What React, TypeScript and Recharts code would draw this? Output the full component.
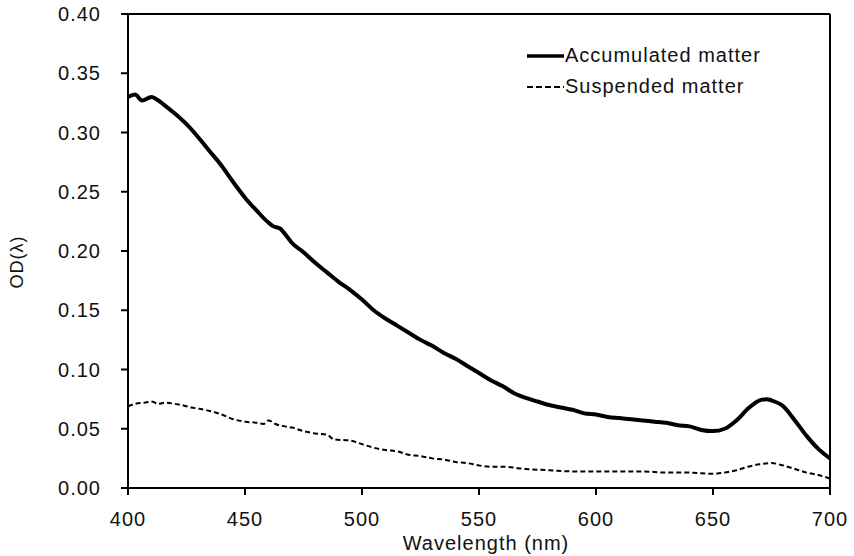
import { LineChart, Line, XAxis, YAxis, ReferenceLine } from "recharts";

// Wellenlänge (nm) und OD-Werte
const ACC_NM = [
  400, 403, 406, 410, 413, 415, 420, 425, 430, 435, 440, 445, 450, 455, 460,
  462, 465, 468, 470, 475, 480, 485, 490, 495, 500, 505, 510, 515, 520, 525,
  530, 535, 540, 545, 550, 555, 560, 565, 570, 575, 580, 585, 590, 595, 600,
  605, 610, 615, 620, 625, 630, 635, 640, 645, 650, 655, 660, 665, 670, 673,
  675, 680, 685, 690, 695, 700,
];
const ACC_OD = [
  0.330, 0.332, 0.327, 0.330, 0.327, 0.324, 0.316, 0.307, 0.296, 0.284, 0.272,
  0.258, 0.245, 0.234, 0.224, 0.221, 0.219, 0.212, 0.207, 0.199, 0.19, 0.182,
  0.174, 0.167, 0.159, 0.15, 0.143, 0.137, 0.131, 0.125, 0.12, 0.114, 0.109,
  0.103, 0.097, 0.091, 0.086, 0.08, 0.076, 0.073, 0.07, 0.068, 0.066, 0.063,
  0.062, 0.06, 0.059, 0.058, 0.057, 0.056, 0.055, 0.053, 0.052, 0.049, 0.048,
  0.05, 0.057, 0.067, 0.074, 0.075, 0.074, 0.069, 0.057, 0.044, 0.033, 0.025,
];

const SUS_NM = [
  400, 403, 407, 410, 413, 416, 420, 423, 427, 430, 435, 440, 445, 450, 455,
  458, 460, 463, 467, 470, 475, 480, 485, 488, 495, 500, 505, 510, 515, 520,
  525, 530, 535, 540, 545, 550, 555, 560, 570, 580, 590, 600, 610, 620, 630,
  640, 650, 655, 660, 665, 670, 675, 680, 685, 690, 695, 700,
];
const SUS_OD = [
  0.069, 0.071, 0.072, 0.073, 0.071, 0.072, 0.071, 0.07, 0.068, 0.067, 0.065,
  0.062, 0.058, 0.056, 0.055, 0.054, 0.057, 0.054, 0.052, 0.051, 0.048, 0.046,
  0.045, 0.041, 0.04, 0.037, 0.034, 0.032, 0.031, 0.028, 0.027, 0.025, 0.024,
  0.022, 0.021, 0.019, 0.018, 0.018, 0.016, 0.015, 0.014, 0.014, 0.014, 0.014,
  0.013, 0.013, 0.012, 0.013, 0.015, 0.018, 0.02, 0.021, 0.019, 0.016, 0.013,
  0.011, 0.008,
];

const X_TICKS = [400, 450, 500, 550, 600, 650, 700];
const Y_TICKS = [0, 0.05, 0.1, 0.15, 0.2, 0.25, 0.3, 0.35, 0.4];

const SERIES = [
  { key: "acc", name: "Accumulated matter", width: 4, dash: undefined },
  { key: "sus", name: "Suspended matter", width: 2, dash: "5 3" },
];

const FONT = "'Liberation Sans', Arial, sans-serif";
const accData = ACC_NM.map((nm, i) => ({ nm, od: ACC_OD[i] }));
const susData = SUS_NM.map((nm, i) => ({ nm, od: SUS_OD[i] }));

const tickStyle = { fill: "#111", fontSize: 20, fontFamily: FONT, letterSpacing: 1 };

function LegendBox() {
  return (
    <div
      style={{
        position: "absolute",
        top: 40,
        left: 527,
        fontFamily: FONT,
        fontSize: 20,
        letterSpacing: 1,
        color: "#111",
      }}
    >
      {SERIES.map((s) => (
        <div key={s.key} style={{ display: "flex", alignItems: "center", height: 31 }}>
          <svg width={37} height={6} style={{ marginRight: 1 }}>
            <line
              x1={0}
              y1={3}
              x2={37}
              y2={3}
              stroke="#000"
              strokeWidth={s.key === "acc" ? 3.5 : 2}
              strokeDasharray={s.key === "acc" ? undefined : "6 3"}
            />
          </svg>
          <span>{s.name}</span>
        </div>
      ))}
    </div>
  );
}

export default function App() {
  return (
    <div style={{ position: "absolute", left: 0, top: 0, width: 854, height: 556, background: "#fff" }}>
      <LineChart width={854} height={556} margin={{ top: 14, right: 24, left: 0, bottom: 0 }}>
        <XAxis
          dataKey="nm"
          type="number"
          domain={[400, 700]}
          ticks={X_TICKS}
          allowDuplicatedCategory={false}
          height={68}
          stroke="#000"
          axisLine={{ stroke: "#000", strokeWidth: 2 }}
          tickLine={{ stroke: "#000", strokeWidth: 2 }}
          tickSize={7}
          tickMargin={17}
          tick={tickStyle}
          label={{
            value: "Wavelength (nm)",
            position: "insideBottom",
            offset: 6,
            dx: 7,
            style: { fill: "#111", fontSize: 20, fontFamily: FONT, letterSpacing: 1 },
          }}
        />
        <YAxis
          type="number"
          domain={[0, 0.4]}
          ticks={Y_TICKS}
          width={128}
          axisLine={{ stroke: "#000", strokeWidth: 2 }}
          tickLine={{ stroke: "#000", strokeWidth: 2 }}
          tickSize={7}
          tickMargin={20}
          tick={tickStyle}
          tickFormatter={(v: number) => v.toFixed(2)}
          label={{
            content: () => (
              <text
                x={17}
                y={262}
                transform="rotate(-90 17 262)"
                textAnchor="middle"
                dominantBaseline="central"
                fill="#111"
                fontSize={18}
                fontFamily={FONT}
                letterSpacing={1}
              >
                OD(λ)
              </text>
            ),
          }}
        />
        {/* Rahmen oben und rechts */}
        <ReferenceLine y={0.4} stroke="#000" strokeWidth={2} />
        <ReferenceLine x={700} stroke="#000" strokeWidth={2} />
        <Line
          data={accData}
          dataKey="od"
          name={SERIES[0].name}
          type="monotone"
          stroke="#000"
          strokeWidth={SERIES[0].width}
          dot={false}
          isAnimationActive={false}
        />
        <Line
          data={susData}
          dataKey="od"
          name={SERIES[1].name}
          type="monotone"
          stroke="#000"
          strokeWidth={SERIES[1].width}
          strokeDasharray={SERIES[1].dash}
          dot={false}
          isAnimationActive={false}
        />
      </LineChart>
      <LegendBox />
    </div>
  );
}
